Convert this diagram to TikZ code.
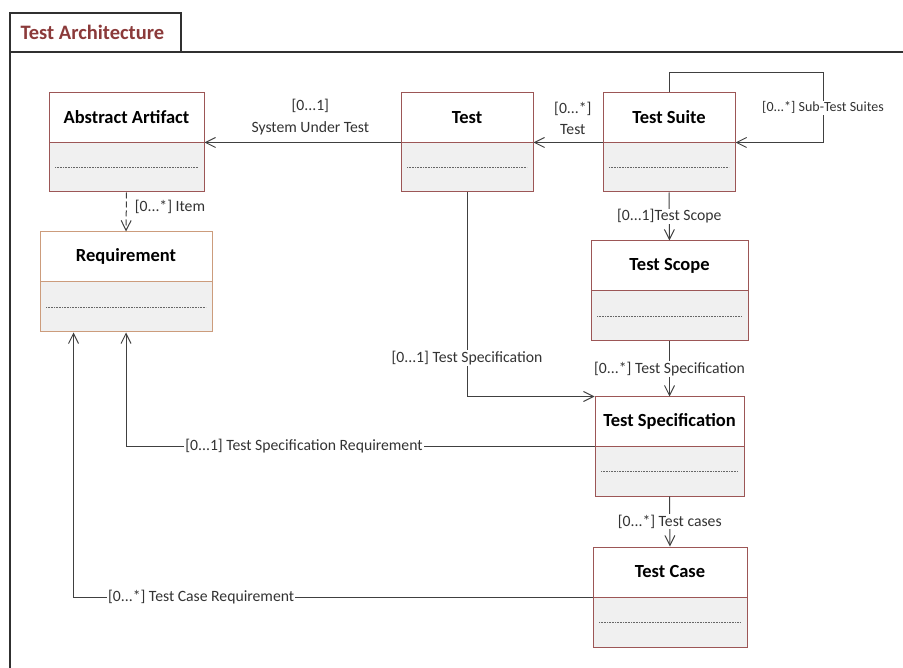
\documentclass[tikz,border=0pt]{standalone}
\usepackage{fontspec}
\setmainfont{Carlito}
\usetikzlibrary{arrows.meta,calc}

\definecolor{boxred}{HTML}{9C5656}
\definecolor{reqtan}{HTML}{CC9C7C}
\definecolor{lowfill}{HTML}{F0F0F0}
\definecolor{linegray}{HTML}{404040}
\definecolor{labelgray}{HTML}{333333}
\definecolor{titlered}{HTML}{8B3A3A}
\definecolor{framegray}{HTML}{303030}

\tikzset{
  classbox/.style={draw=#1, line width=1pt, fill=white, inner sep=0pt,
    path picture={
      \fill[lowfill] (path picture bounding box.west) rectangle (path picture bounding box.south east);
      \draw[#1, line width=1pt] (path picture bounding box.west) -- (path picture bounding box.east);
      \draw[dotrule]
        ($(path picture bounding box.west)!0.5!(path picture bounding box.south west)+(6pt,0)$) --
        ($(path picture bounding box.east)!0.5!(path picture bounding box.south east)+(-6pt,0)$);
    }},
  classbox/.default=boxred,
  dotrule/.style={draw=black!60, line width=0.8pt, dash pattern=on 1pt off 0.6pt},
  classtitle/.style={font=\bfseries\fontsize{18.5}{21}\selectfont, inner sep=0pt},
  conn/.style={draw=linegray, line width=1pt},
  arr/.style={conn, -{Straight Barb[length=10pt,width=10pt]}},
  lbl/.style={font=\fontsize{15.7}{21.5}\selectfont, text=labelgray, fill=white, inner sep=1pt},
  smalllbl/.style={lbl, font=\fontsize{14}{16}\selectfont},
  framestyle/.style={draw=framegray, line width=1.1pt}
}

\begin{document}
\begin{tikzpicture}[x=1pt,y=1pt]
\useasboundingbox (0,0) rectangle (903,-668);

% package frame with its name tab
\coordinate (tabnw) at (10,-13);
\coordinate (tabse) at (181,-52);
\coordinate (frameend) at (903,-52);
\coordinate (framebottom) at (10,-668);
\draw[framestyle] (tabnw) rectangle (tabse);
\draw[framestyle] (tabse -| tabnw) -- (frameend);
\draw[framestyle] (tabnw) -- (framebottom);
\node[font=\bfseries\fontsize{20.5}{23}\selectfont, text=titlered, anchor=west]
  (frametitle) at (17,-32.5) {Test Architecture};

% classes
\node[classbox, minimum width=155, minimum height=99] (aa)    at (126.5,-142.5) {};
\node[classbox=reqtan, minimum width=172, minimum height=100] (req) at (126,-282) {};
\node[classbox, minimum width=132, minimum height=99] (test)  at (467,-142.5) {};
\node[classbox, minimum width=132, minimum height=99] (suite) at (669,-142.5) {};
\node[classbox, minimum width=157, minimum height=100] (scope) at (669.5,-291) {};
\node[classbox, minimum width=149, minimum height=99] (spec)  at (669.5,-446.5) {};
\node[classbox, minimum width=154, minimum height=100] (case)  at (670,-597) {};

\node[classtitle] (aa-t)    at ($(aa.north)!0.5!(aa.center)$)       {Abstract Artifact};
\node[classtitle] (req-t)   at ($(req.north)!0.5!(req.center)$)     {Requirement};
\node[classtitle] (test-t)  at ($(test.north)!0.5!(test.center)$)   {Test};
\node[classtitle] (suite-t) at ($(suite.north)!0.5!(suite.center)$) {Test Suite};
\node[classtitle] (scope-t) at ($(scope.north)!0.5!(scope.center)$) {Test Scope};
\node[classtitle] (spec-t)  at ($(spec.north)!0.5!(spec.center)$)   {Test Specification};
\node[classtitle] (case-t)  at ($(case.north)!0.5!(case.center)$)   {Test Case};

% associations
\draw[arr] (test.west) -- node[pos=0.46, above=6pt, lbl, align=center] (sutlbl) {[0...1]\\System Under Test} (aa.east);
\draw[arr] (suite.west) -- node[pos=0.43, above=6pt, lbl, align=center] (testlbl) {[0...*]\\Test} (test.east);

\coordinate (loopc) at (823,-73);
\draw[arr] (suite.north) |- (loopc) |- node[pos=0.25, smalllbl] (sublbl) {[0...*] Sub-Test Suites} (suite.east);

\draw[arr] (suite.south) -- node[lbl] (scopelbl) {[0...1]Test Scope} (scope.north);
\draw[arr] (test.south) |- node[pos=0.405, lbl] (testspeclbl) {[0...1] Test Specification} (spec.north west);
\draw[arr] (scope.south) -- node[lbl] (scopespeclbl) {[0...*] Test Specification} (spec.north);
\draw[arr] (spec.south) -- node[lbl] (caselbl) {[0...*] Test cases} (case.north);

\draw[arr] (spec.west) -| node[pos=0.31, lbl] (specreqlbl) {[0...1] Test Specification Requirement} (req.south);
\coordinate (casereqend) at ([xshift=34pt]req.south west);
\draw[arr] (case.west) -| node[pos=0.377, lbl] (casereqlbl) {[0...*] Test Case Requirement} (casereqend);

\draw[arr, dash pattern=on 6pt off 3pt] (aa.south) -- node[pos=0.36, right=7pt, lbl, fill=none] (itemlbl) {[0...*] Item} (req.north);
\end{tikzpicture}
\end{document}
